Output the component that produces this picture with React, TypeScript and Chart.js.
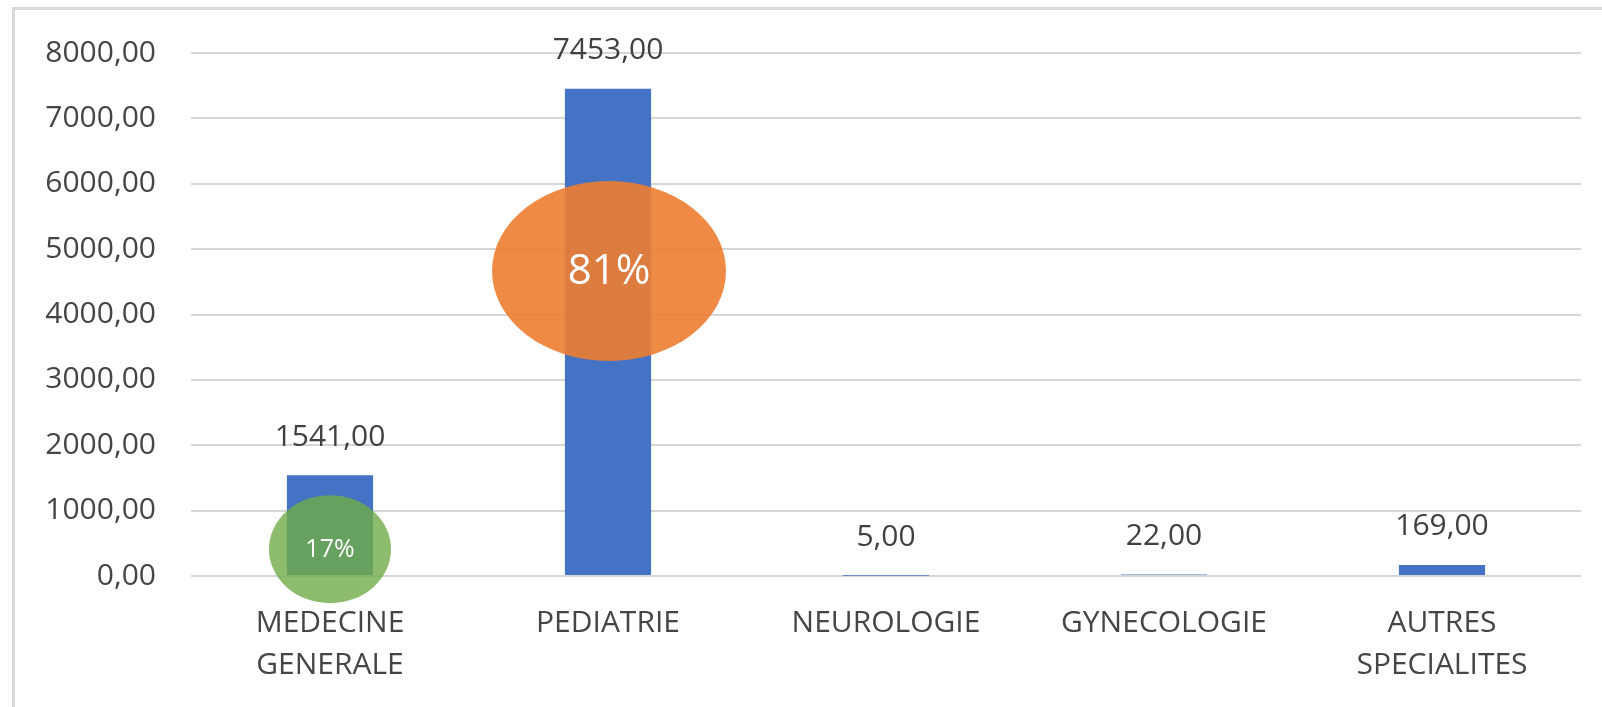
import React, { useEffect, useRef } from "react";
import { Chart, registerables } from "chart.js";

Chart.register(...registerables);

const categories: (string | string[])[] = [
  ["MEDECINE", "GENERALE"],
  "PEDIATRIE",
  "NEUROLOGIE",
  "GYNECOLOGIE",
  ["AUTRES", "SPECIALITES"],
];
const values: number[] = [1541, 7453, 5, 22, 169];
const yTicks: number[] = [0, 1000, 2000, 3000, 4000, 5000, 6000, 7000, 8000];

// overlay bubbles (category index, value at bubble centre, label)
const bubbleIndex: number[] = [0, 1];
const bubbleValue: number[] = [410, 4665];
const bubbleLabel: string[] = ["17%", "81%"];

const FONT = "'Open Sans', 'DejaVu Sans', sans-serif";
const fmt = (v: number) => v.toFixed(2).replace(".", ",");

const overlayPlugin = {
  id: "overlay",
  afterDatasetsDraw(chart: any) {
    const ctx = chart.ctx;
    const meta = chart.getDatasetMeta(0);
    ctx.save();
    ctx.fillStyle = "#404040";
    ctx.font = `30px ${FONT}`;
    ctx.textAlign = "center";
    ctx.textBaseline = "middle";
    meta.data.forEach((bar: any, i: number) => {
      ctx.fillText(fmt(values[i]), bar.x, bar.y - 38);
    });
    ctx.restore();

    const xs = chart.scales.x;
    const ys = chart.scales.y;
    const styles = [
      { rx: 61, ry: 54, fill: "rgba(112,173,71,0.8)", font: 25 },
      { rx: 117, ry: 90, fill: "rgba(237,125,49,0.9)", font: 42 },
    ];
    bubbleIndex.forEach((ci, k) => {
      const st = styles[k];
      const cx = xs.getPixelForValue(ci) + (k === 1 ? 1 : 0);
      const cy = ys.getPixelForValue(bubbleValue[k]);
      ctx.save();
      ctx.beginPath();
      ctx.ellipse(cx, cy, st.rx, st.ry, 0, 0, Math.PI * 2);
      ctx.fillStyle = st.fill;
      ctx.fill();
      ctx.fillStyle = "#ffffff";
      ctx.font = `${st.font}px ${FONT}`;
      ctx.textAlign = "center";
      ctx.textBaseline = "middle";
      ctx.fillText(bubbleLabel[k], cx, cy + 1);
      ctx.restore();
    });
  },
};

export default function App() {
  const ref = useRef<HTMLCanvasElement | null>(null);

  useEffect(() => {
    if (!ref.current) return;
    const chart = new Chart(ref.current, {
      type: "bar",
      data: {
        labels: categories,
        datasets: [
          {
            data: values,
            backgroundColor: "#4472C4",
            borderWidth: 0,
            barPercentage: 0.31,
            categoryPercentage: 1,
          },
        ],
      },
      options: {
        animation: false,
        responsive: false,
        maintainAspectRatio: false,
        layout: { padding: { top: 51, right: 21, left: 0, bottom: 0 } },
        plugins: {
          legend: { display: false },
          tooltip: { enabled: false },
          title: { display: false },
        },
        scales: {
          x: {
            grid: { display: false, drawTicks: false },
            border: { display: false },
            ticks: {
              color: "#454545",
              font: { family: FONT, size: 30, lineHeight: 1.4 },
              padding: 26,
              maxRotation: 0,
              autoSkip: false,
            },
            afterFit: (s: any) => {
              s.height = 131;
            },
          },
          y: {
            min: 0,
            max: 8000,
            afterBuildTicks: (s: any) => {
              s.ticks = yTicks.map((v) => ({ value: v }));
            },
            grid: { color: "#d6d6d6", lineWidth: 2, drawTicks: false },
            border: { display: false },
            ticks: {
              color: "#454545",
              font: { family: FONT, size: 30 },
              padding: 35,
              callback: (v: any) => fmt(Number(v)),
            },
            afterFit: (s: any) => {
              s.width = 191;
            },
          },
        },
      },
      plugins: [overlayPlugin],
    });
    return () => chart.destroy();
  }, []);

  return (
    <div
      style={{
        position: "fixed",
        left: 0,
        top: 0,
        width: 1602,
        height: 707,
        background: "#ffffff",
      }}
    >
      <canvas ref={ref} width={1602} height={707} style={{ display: "block" }} />
      <div
        style={{
          position: "absolute",
          left: 12,
          top: 7,
          right: 0,
          bottom: 0,
          borderTop: "3px solid #d9d9d9",
          borderLeft: "3px solid #d9d9d9",
          pointerEvents: "none",
        }}
      />
    </div>
  );
}
